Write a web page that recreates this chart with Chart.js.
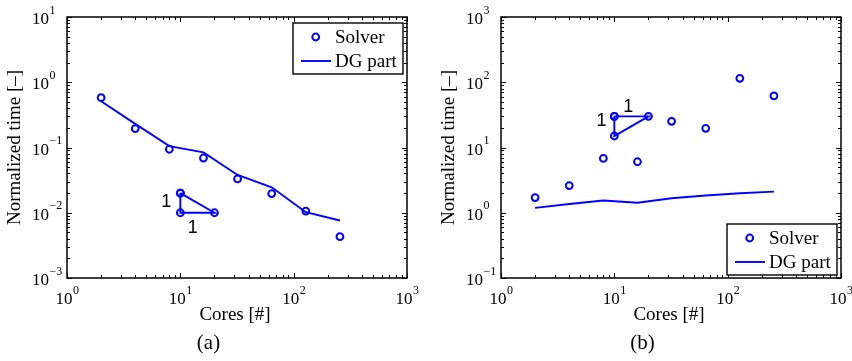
<!DOCTYPE html>
<html>
<head>
<meta charset="utf-8">
<script src="https://cdn.jsdelivr.net/npm/chart.js@4.4.1/dist/chart.umd.min.js"></script>
<style>
    html, body { margin: 0; padding: 0; background: #fff; }
    body { width: 852px; height: 361px; position: relative; overflow: hidden; }
    canvas { position: absolute; top: 0; }
    #chart-a { left: 0; }
    #chart-b { left: 426px; }
</style>
</head>
<body>
<canvas id="chart-a" width="426" height="361"></canvas>
<canvas id="chart-b" width="426" height="361"></canvas>
<script>
var cores = [2, 4, 8, 16, 32, 64, 128, 256];

// (a)
var solverA = [0.58, 0.195, 0.094, 0.069, 0.033, 0.0197, 0.0106, 0.0043];
var dgPartA = [0.51, 0.23, 0.105, 0.084, 0.038, 0.0246, 0.0102, 0.0076];
var slopeXA = [10, 10, 20, 10];
var slopeYA = [0.02, 0.01, 0.01, 0.02];
var slopeTextA = [{x: 7.5, y: 0.0148, text: '1'}, {x: 12.9, y: 0.0058, text: '1'}];

// (b)
var solverB = [1.71, 2.61, 6.8, 6.05, 25.2, 19.7, 115, 62];
var dgPartB = [1.19, 1.36, 1.54, 1.42, 1.67, 1.84, 1.99, 2.11];
var slopeXB = [10, 20, 10, 10];
var slopeYB = [30, 30, 15, 30];
var slopeTextB = [{x: 7.7, y: 25.5, text: '1'}, {x: 13.3, y: 42, text: '1'}];

var xRange = [1, 1000];
var yRangeA = [0.001, 10];
var yRangeB = [0.1, 1000];

var xTitle = 'Cores [#]';
var yTitle = 'Normalized time [\u2013]';

var blue = '#0000ff';
var serif = '"Liberation Serif", "Times New Roman", serif';
var sans = '"Liberation Sans", Arial, sans-serif';

function pts(xs, ys) {
    return xs.map(function (x, i) { return {x: x, y: ys[i]}; });
}

function decadeTicks(min, max) {
    var out = [];
    var e0 = Math.round(Math.log10(min)), e1 = Math.round(Math.log10(max));
    for (var e = e0; e <= e1; e++) {
        for (var k = 1; k <= 9; k++) {
            var v = k * Math.pow(10, e);
            if (v > max * 1.0001) break;
            out.push({value: v, major: k === 1, exp: e});
        }
    }
    return out;
}

function powerLabel(ctx, exp, x, y, centered) {
    var base = '10';
    var sup = exp < 0 ? '\u2212' + (-exp) : String(exp);
    ctx.font = '17px ' + serif;
    var wb = ctx.measureText(base).width;
    ctx.font = '12px ' + serif;
    var ws = ctx.measureText(sup).width;
    var x0 = centered ? x - (wb + ws) / 2 : x;
    ctx.textAlign = 'left';
    ctx.textBaseline = 'alphabetic';
    ctx.font = '17px ' + serif;
    ctx.fillText(base, x0, y);
    ctx.font = '12px ' + serif;
    ctx.fillText(sup, x0 + wb + 0.5, y - 10.5);
}

function makeFrame(cfg) {
    return {
        id: 'frame',
        afterDraw: function (chart) {
            var ctx = chart.ctx, a = chart.chartArea;
            var xs = chart.scales.x, ys = chart.scales.y;
            ctx.save();
            ctx.fillStyle = '#000';
            ctx.strokeStyle = '#000';

            // inward ticks on all four sides
            ctx.lineWidth = 1;
            ctx.beginPath();
            decadeTicks(xs.min, xs.max).forEach(function (t) {
                var px = Math.round(xs.getPixelForValue(t.value)) + 0.5;
                var len = t.major ? 5 : 3;
                ctx.moveTo(px, a.bottom); ctx.lineTo(px, a.bottom - len);
                ctx.moveTo(px, a.top); ctx.lineTo(px, a.top + len);
            });
            decadeTicks(ys.min, ys.max).forEach(function (t) {
                var py = Math.round(ys.getPixelForValue(t.value)) + 0.5;
                var len = t.major ? 5 : 3;
                ctx.moveTo(a.left, py); ctx.lineTo(a.left + len, py);
                ctx.moveTo(a.right, py); ctx.lineTo(a.right - len, py);
            });
            ctx.stroke();

            ctx.lineWidth = 1.5;
            ctx.strokeRect(a.left, a.top, a.right - a.left, a.bottom - a.top);

            // tick labels
            decadeTicks(xs.min, xs.max).forEach(function (t) {
                if (t.major) powerLabel(ctx, t.exp, xs.getPixelForValue(t.value), a.bottom + 26, true);
            });
            decadeTicks(ys.min, ys.max).forEach(function (t) {
                if (t.major) powerLabel(ctx, t.exp, a.left - 35, ys.getPixelForValue(t.value) + 7, false);
            });

            // axis titles and caption
            ctx.font = '19px ' + serif;
            ctx.textAlign = 'center';
            ctx.textBaseline = 'middle';
            ctx.fillText(xTitle, (a.left + a.right) / 2 - 2, a.bottom + 37);
            ctx.save();
            ctx.translate(a.left - 52, (a.top + a.bottom) / 2);
            ctx.rotate(-Math.PI / 2);
            ctx.fillText(yTitle, 0, 0);
            ctx.restore();
            ctx.font = '21px ' + serif;
            ctx.fillText(cfg.caption, a.left + 141.5, a.bottom + 65);

            // slope triangle labels
            ctx.font = '18px ' + sans;
            cfg.slopeText.forEach(function (s) {
                ctx.fillText(s.text, xs.getPixelForValue(s.x), ys.getPixelForValue(s.y));
            });

            // legend box
            var bw = 110, bh = 51;
            var bx = a.right - 114;
            var by = cfg.legendTop ? a.top + 6 : a.bottom - 54;
            ctx.fillStyle = '#fff';
            ctx.fillRect(bx, by, bw, bh);
            ctx.lineWidth = 1.4;
            ctx.strokeRect(bx, by, bw, bh);
            var items = chart.data.datasets.filter(function (d) { return d.label !== 'slope'; });
            items.forEach(function (d, i) {
                var cy = by + 14 + i * 24;
                ctx.strokeStyle = d.borderColor;
                if (d.showLine === false) {
                    ctx.lineWidth = d.pointBorderWidth;
                    ctx.beginPath();
                    ctx.arc(bx + 22.7, cy, d.pointRadius, 0, Math.PI * 2);
                    ctx.stroke();
                } else {
                    ctx.lineWidth = d.borderWidth;
                    ctx.beginPath();
                    ctx.moveTo(bx + 8, cy);
                    ctx.lineTo(bx + 38, cy);
                    ctx.stroke();
                }
                ctx.fillStyle = '#000';
                ctx.font = '19px ' + serif;
                ctx.textAlign = 'left';
                ctx.textBaseline = 'middle';
                ctx.fillText(d.label, bx + 42, cy + 1);
            });
            ctx.restore();
        }
    };
}

function makeChart(id, cfg) {
    return new Chart(id, {
        type: 'line',
        data: {
            datasets: [{
                label: 'Solver',
                data: pts(cores, cfg.solver),
                showLine: false,
                borderColor: blue,
                backgroundColor: 'rgba(0,0,0,0)',
                pointBackgroundColor: 'rgba(0,0,0,0)',
                pointRadius: 3.4,
                pointBorderWidth: 2
            }, {
                label: 'DG part',
                data: pts(cores, cfg.dg),
                borderColor: blue,
                borderWidth: 1.9,
                pointRadius: 0,
                tension: 0,
                fill: false
            }, {
                label: 'slope',
                data: pts(cfg.slopeX, cfg.slopeY),
                borderColor: blue,
                borderWidth: 1.9,
                backgroundColor: 'rgba(0,0,0,0)',
                pointBackgroundColor: 'rgba(0,0,0,0)',
                pointRadius: 3.4,
                pointBorderWidth: 2,
                tension: 0,
                fill: false
            }]
        },
        options: {
            responsive: false,
            animation: false,
            layout: { padding: cfg.padding },
            plugins: {
                legend: { display: false },
                tooltip: { enabled: false }
            },
            scales: {
                x: { type: 'logarithmic', min: xRange[0], max: xRange[1], display: false },
                y: { type: 'logarithmic', min: cfg.yRange[0], max: cfg.yRange[1], display: false }
            }
        },
        plugins: [makeFrame(cfg)]
    });
}

makeChart('chart-a', {
    solver: solverA, dg: dgPartA,
    slopeX: slopeXA, slopeY: slopeYA, slopeText: slopeTextA,
    yRange: yRangeA, caption: '(a)', legendTop: true,
    padding: { left: 67, top: 17, right: 19, bottom: 83 }
});

makeChart('chart-b', {
    solver: solverB, dg: dgPartB,
    slopeX: slopeXB, slopeY: slopeYB, slopeText: slopeTextB,
    yRange: yRangeB, caption: '(b)', legendTop: false,
    padding: { left: 75, top: 17, right: 11, bottom: 83 }
});
</script>
</body>
</html>
